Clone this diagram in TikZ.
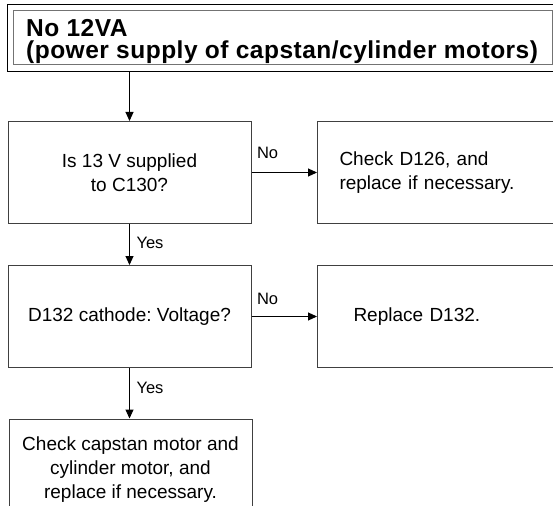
\documentclass[tikz,border=0pt]{standalone}
\usepackage{fontspec}
\setmainfont{Liberation Sans}
\newfontfamily\ttlfont[LetterSpace=2.0]{Liberation Sans Bold}
\frenchspacing
\usetikzlibrary{arrows.meta}
\tikzset{
  box/.style={draw=black!75, line width=1pt, rectangle, minimum height=102pt, inner sep=0pt},
  lbox/.style={box, minimum width=243pt, align=center, font=\fontsize{19}{24}\selectfont},
  rbox/.style={box, anchor=west, text width=260pt, inner xsep=22pt, align=left, font=\fontsize{19}{24}\selectfont},
  conn/.style={draw=black, line width=1pt, -{Triangle[length=9pt,width=8pt]}},
  lbl/.style={font=\fontsize{16.5}{18}\selectfont, inner sep=0pt},
  ttl/.style={anchor=base west, inner sep=0pt, font=\ttlfont\fontsize{24.5}{21}\selectfont}
}
\begin{document}
\begin{tikzpicture}[x=1pt,y=-1pt]
\useasboundingbox (0,0) rectangle (553,505);
\clip (0,0) rectangle (553,505);
% title
\node[draw=black, line width=1pt, rectangle, anchor=north west, minimum width=620pt, minimum height=67pt, inner sep=0pt] (titleouter) at (7,4) {};
\node[draw=black!55, line width=1pt, rectangle, anchor=north west, minimum width=539.5pt, minimum height=54.5pt, inner sep=0pt] (title) at (12.5,10) {};
\node[ttl] (titletext1) at (26,37) {No 12VA};
\node[ttl] (titletext2) at (26,59) {(power supply of capstan/cylinder motors)};
% boxes
\node[lbox] (b1) at (129.5,172.5) {Is 13 V supplied\\to C130?};
\node[rbox] (b1b) at (317,172.5) {Check D126, and\\replace if necessary.};
\node[lbox] (b2) at (129.5,316.5) {D132 cathode: Voltage?};
\node[rbox] (b2b) at (317,316.5) {\hspace*{14pt}Replace D132.};
\node[lbox] (b3) at (130.5,470) {Check capstan motor and\\cylinder motor, and\\replace if necessary.};
% connectors
\draw[conn] (b1.north |- titleouter.south) -- (b1.north);
\draw[conn] (b1.east) -- node[lbl, pos=0, anchor=base west, xshift=5pt, yshift=14.5pt] (no1) {No} (b1b.west);
\draw[conn] (b1.south) -- node[lbl, pos=0, anchor=base west, xshift=6.5pt, yshift=-24pt] (yes1) {Yes} (b2.north);
\draw[conn] (b2.east) -- node[lbl, pos=0, anchor=base west, xshift=5pt, yshift=12pt] (no2) {No} (b2b.west);
\draw[conn] (b2.south) -- node[lbl, pos=0, anchor=base west, xshift=6.5pt, yshift=-25pt] (yes2) {Yes} (b3.north -| b2.south);
\end{tikzpicture}
\end{document}
